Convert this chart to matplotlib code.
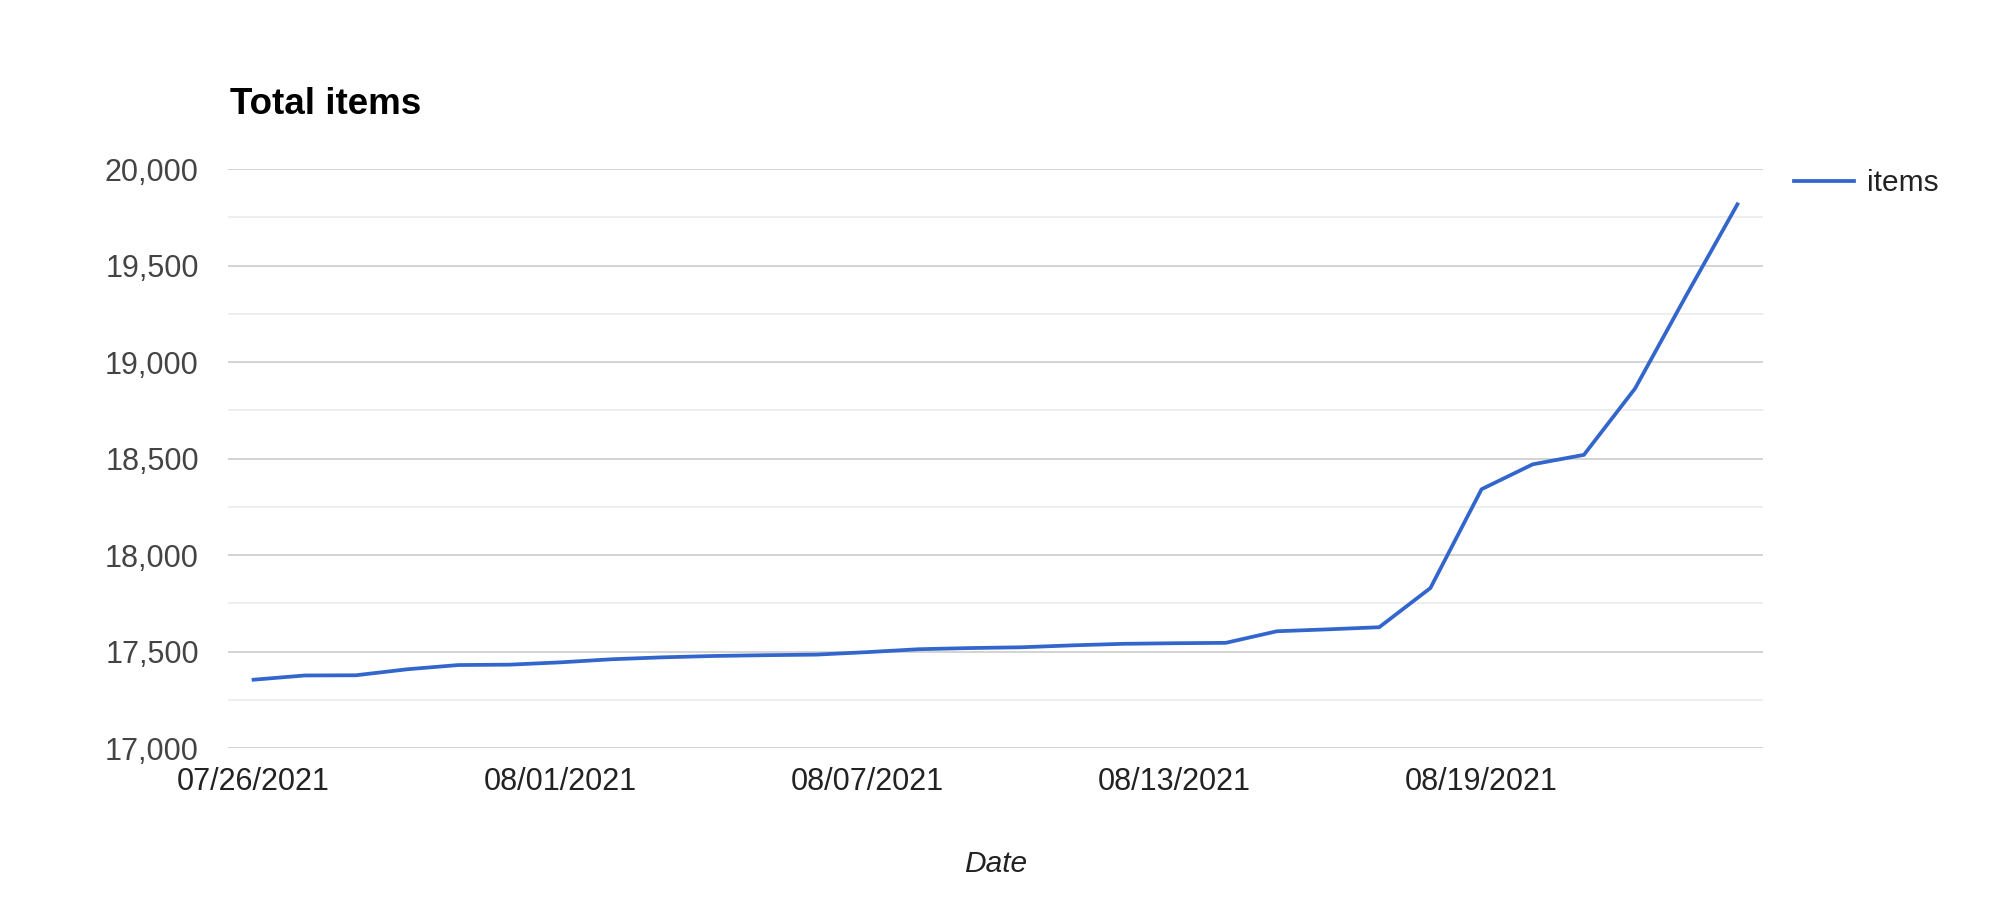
import numpy as np
import pandas as pd
import matplotlib
matplotlib.use("Agg")
import matplotlib.pyplot as plt
import matplotlib.dates as mdates
from matplotlib.ticker import FuncFormatter, MultipleLocator

plt.rcParams['font.family'] = ['Liberation Sans', 'DejaVu Sans']

# daily totals, 07/26/2021 .. 08/24/2021
dates = pd.date_range("2021-07-26", periods=30, freq="D")
items = [17354, 17376, 17377, 17408, 17430, 17432, 17444, 17460, 17470, 17477,
         17481, 17484, 17497, 17512, 17518, 17522, 17532, 17540, 17543, 17545,
         17605, 17615, 17626, 17829, 18341, 18470, 18519, 18863, 19345, 19817]
tick_dates = dates[::6]

fig = plt.figure(figsize=(20, 9.21), dpi=100)
fig.patch.set_facecolor('white')
ax = fig.add_axes([0.114, 0.1878, 0.7675, 0.6287])

ax.plot(dates, items, color='#3366CC', linewidth=2.7, label='items', zorder=3)

ax.set_ylim(17000, 20000)
ax.set_xlim(dates[0] - pd.Timedelta(hours=12), dates[-1] + pd.Timedelta(hours=12))

ax.yaxis.set_major_locator(MultipleLocator(500))
ax.yaxis.set_minor_locator(MultipleLocator(250))
ax.yaxis.set_major_formatter(FuncFormatter(lambda v, p: f"{int(v):,}"))
ax.grid(True, axis='y', which='major', color='#cccccc', linewidth=1.2, zorder=0)
ax.grid(True, axis='y', which='minor', color='#ebebeb', linewidth=1.2, zorder=0)

ax.set_xticks(tick_dates)
ax.xaxis.set_major_formatter(mdates.DateFormatter('%m/%d/%Y'))

for s in ax.spines.values():
    s.set_visible(False)
ax.tick_params(axis='y', which='both', length=0, pad=21, labelsize=22, labelcolor='#444444')
ax.tick_params(axis='x', which='both', length=0, pad=14, labelsize=22, labelcolor='#222222')

fig.text(0.115, 1 - 114 / 921, 'Total items', fontsize=26.5, fontweight='bold',
         ha='left', va='baseline', color='black')
fig.text(0.4978, 1 - 872 / 921, 'Date', fontsize=21.5, style='italic',
         ha='center', va='baseline', color='#222222')

leg = ax.legend(loc='center left', bbox_to_anchor=(0.897, 1 - 183 / 921),
                bbox_transform=fig.transFigure, frameon=False, fontsize=21.5,
                handlelength=2.0, handletextpad=0.45, borderpad=0, borderaxespad=0)
for t in leg.get_texts():
    t.set_color('#222222')

fig.savefig('out.png', dpi=100, facecolor='white')
